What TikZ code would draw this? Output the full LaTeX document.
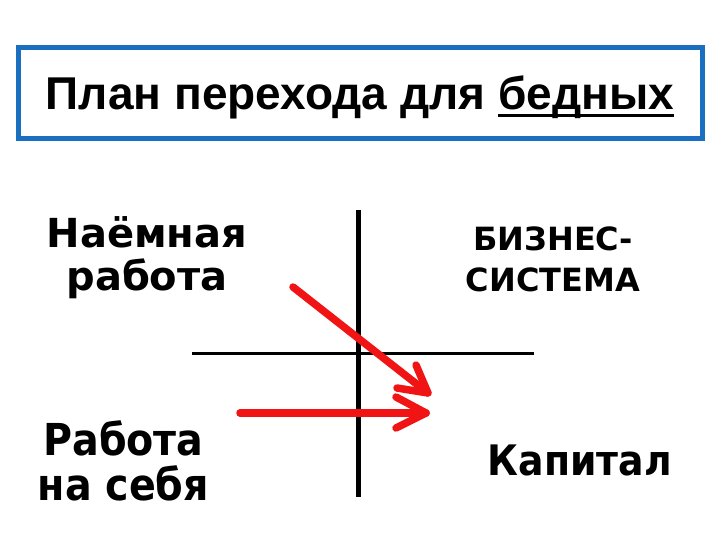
\documentclass[tikz,border=0pt]{standalone}
\usepackage{fontspec}
\setmainfont{DejaVu Sans}
\newfontfamily\titlefont{Liberation Sans}
\newfontfamily\dvb{DejaVu Sans}
\newfontfamily\dvcb{DejaVu Sans Condensed}
\definecolor{boxblue}{RGB}{26,111,192}
\definecolor{arrred}{RGB}{240,20,20}
\newcommand\thickul[1]{\setbox0\hbox{#1}\rlap{\vrule height -4pt depth 7pt width \wd0}\box0}
\begin{document}
\begin{tikzpicture}[x=1pt,y=-1pt,
  lbl/.style={inner sep=0pt,align=center,text=black},
  redarr/.style={draw=arrred,line width=7.5pt,line cap=round,line join=round},
  axisline/.style={draw=black}]
\useasboundingbox (0,0) rectangle (720,540);
\fill[white] (0,0) rectangle (720,540);
% title box
\node[draw=boxblue,line width=5pt,minimum width=684pt,minimum height=91pt,inner sep=0pt] (title) at (360,93.5) {};
\node[lbl,font=\titlefont\bfseries\fontsize{46}{52}\selectfont,anchor=base] (titletext) at (360,110) {План перехода для \thickul{бедных}};
% axes
\coordinate (vtop) at (358,210);
\coordinate (vbot) at (358,497);
\coordinate (hl) at (192,353);
\coordinate (hr) at (534,353);
\draw[axisline,line width=5pt] (vtop) -- (vbot);
\draw[axisline,line width=3pt] (hl) -- (hr);
% texts (base anchor = baseline of last line)
\node[lbl,font=\dvb\bfseries\fontsize{40}{43}\selectfont,anchor=base] (hire) at (147,290) {Наёмная\\работа};
\node[lbl,font=\dvb\bfseries\fontsize{32}{41}\selectfont,anchor=base] (biz) at (553,291) {БИЗНЕС-\\СИСТЕМА};
\node[lbl,font=\dvcb\bfseries\fontsize{44}{45}\selectfont,anchor=base] (self) at (123.5,500) {Работа\\на себя};
\node[lbl,font=\dvcb\bfseries\fontsize{42}{45}\selectfont,anchor=base] (cap) at (580,475) {Капитал};
% arrows
\coordinate (a1s) at (293,287);
\coordinate (a1e) at (428,393);
\coordinate (a1u) at (416,365);
\coordinate (a1l) at (397,388);
\draw[redarr] (a1s) -- (a1e);
\draw[redarr] (a1u) -- (a1e) -- (a1l);
\coordinate (a2s) at (240,413);
\coordinate (a2e) at (426,413);
\coordinate (a2u) at (396,397);
\coordinate (a2l) at (396,428);
\draw[redarr] (a2s) -- (a2e);
\draw[redarr] (a2u) -- (a2e) -- (a2l);
\end{tikzpicture}
\end{document}
